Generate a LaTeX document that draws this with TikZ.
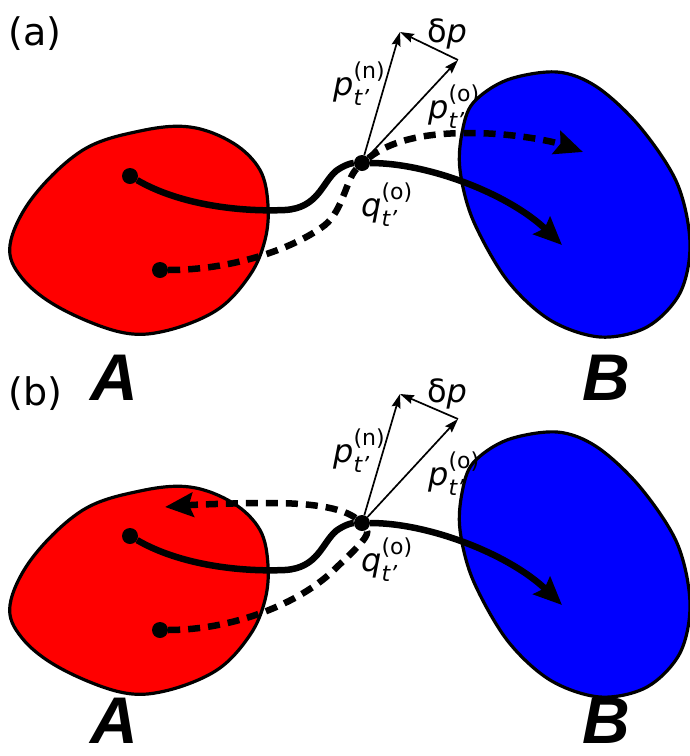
\documentclass[tikz,border=0pt]{standalone}
\usepackage{fontspec}
\setmainfont{DejaVu Sans}
\newfontfamily\capfont{Liberation Sans}
\usetikzlibrary{arrows.meta,positioning}
\definecolor{regred}{RGB}{255,0,0}
\definecolor{regblue}{RGB}{0,0,255}
\newcommand{\idxfont}{\fontsize{22}{22}\selectfont}
\newcommand{\momsym}[3]{\textit{#1}\makebox[0pt][l]{\raisebox{17pt}{\idxfont(#2)}}\makebox[0pt][l]{\raisebox{-10pt}{\idxfont\itshape #3}}\phantom{\idxfont(#2)}}
\tikzset{
  basin/.style={draw=black, line width=3.2pt, line join=round},
  trajdot/.style={circle, fill=black, inner sep=0pt, minimum size=16pt},
  traj/.style={line width=6.5pt},
  trajold/.style={traj, dash pattern=on 12pt off 8pt},
  trajtip/.style={-{Stealth[length=28pt,width=24pt,inset=4pt]}},
  momvec/.style={-{Stealth[length=14pt,width=9pt,inset=2pt]}, line width=1.7pt},
  momlbl/.style={inner sep=0pt, anchor=base west, font=\fontsize{32}{32}\selectfont},
  panellbl/.style={inner sep=0pt, anchor=base west, font=\fontsize{38}{38}\selectfont},
  basinlbl/.style={inner sep=0pt, anchor=base, font=\capfont\bfseries\itshape\fontsize{66}{66}\selectfont}
}
\begin{document}
\begin{tikzpicture}[x=1pt, y=-1pt]
\useasboundingbox (0,0) rectangle (690,756);

% panel (a)
\begin{scope}
\node[panellbl] (lbla) at (8,45) {(a)};
\draw[basin, fill=regred] plot[smooth cycle, tension=0.6] coordinates {(10,245) (33,197) (83,150) (140,131) (190,127) (233,143) (260,170) (268,205) (265,240) (250,275) (217,310) (165,331) (120,332) (60,308) (22,278)};
\draw[basin, fill=regblue] plot[smooth cycle, tension=0.55] coordinates {(462,133) (473,103) (507,80) (557,72) (597,87) (640,127) (677,183) (690,243) (680,293) (647,327) (600,337) (550,320) (507,280) (473,220) (460,170)};
\node[basinlbl] (basinAa) at (114,400) {A};
\node[basinlbl] (basinBa) at (606,400) {B};
\node[trajdot] (newa) at (130,176) {};
\node[trajdot] (olda) at (160,270) {};
\node[trajdot] (juna) at (362,163) {};
\coordinate (endnewa) at (562,245);
\coordinate (endolda) at (583,152);
\coordinate (pna) at (400,32);
\coordinate (poa) at (458,60);
\draw[traj] (newa) .. controls (180,205) and (240,212) .. (285,210) .. controls (318,208) and (322,183) .. (336,171) .. controls (344,165) and (352,163) .. (juna);
\draw[traj, trajtip] (juna) .. controls (430,163) and (510,195) .. (endnewa);
\draw[trajold] (olda) .. controls (230,270) and (292,250) .. (325,225) .. controls (343,210) and (346,180) .. (juna);
\draw[trajold, trajtip] (juna) .. controls (392,140) and (425,133) .. (470,133) .. controls (515,133) and (555,142) .. (endolda);
\draw[momvec] (juna) -- (pna);
\draw[momvec] (juna) -- (poa);
\draw[momvec] (poa) -- (pna);
\node[inner sep=0pt, anchor=base, font=\fontsize{32}{32}\selectfont] (dpa) at (447,42) {δ\textit{p}};
\node[momlbl] (pnlbla) at (333,95) {\momsym{p}{n}{t'}};
\node[momlbl] (polbla) at (428,118) {\momsym{p}{o}{t'}};
\node[momlbl] (qlbla) at (361,216) {\momsym{q}{o}{t'}};
\end{scope}

% panel (b)
\begin{scope}[shift={(0,360)}]
\node[panellbl] (lblb) at (8,45) {(b)};
\draw[basin, fill=regred] plot[smooth cycle, tension=0.6] coordinates {(10,245) (33,197) (83,150) (140,131) (190,127) (233,143) (260,170) (268,205) (265,240) (250,275) (217,310) (165,331) (120,332) (60,308) (22,278)};
\draw[basin, fill=regblue] plot[smooth cycle, tension=0.55] coordinates {(462,133) (473,103) (507,80) (557,72) (597,87) (640,127) (677,183) (690,243) (680,293) (647,327) (600,337) (550,320) (507,280) (473,220) (460,170)};
\node[basinlbl] (basinAb) at (114,383) {A};
\node[basinlbl] (basinBb) at (606,383) {B};
\node[trajdot] (newb) at (130,176) {};
\node[trajdot] (oldb) at (160,270) {};
\node[trajdot] (junb) at (362,163) {};
\coordinate (endnewb) at (562,245);
\coordinate (endoldb) at (165,147);
\coordinate (pnb) at (400,34);
\coordinate (pob) at (458,59);
\draw[traj] (newb) .. controls (180,205) and (240,212) .. (285,210) .. controls (318,208) and (322,183) .. (336,171) .. controls (344,165) and (352,163) .. (junb);
\draw[traj, trajtip] (junb) .. controls (430,163) and (510,195) .. (endnewb);
\draw[trajold] (oldb) .. controls (230,270) and (300,245) .. (337,207) .. controls (360,185) and (370,175) .. (junb);
\draw[trajold, trajtip] (junb) .. controls (345,150) and (320,143) .. (270,143) .. controls (230,143) and (190,145) .. (endoldb);
\draw[momvec] (junb) -- (pnb);
\draw[momvec] (junb) -- (pob);
\draw[momvec] (pob) -- (pnb);
\node[inner sep=0pt, anchor=base, font=\fontsize{32}{32}\selectfont] (dpb) at (447,42) {δ\textit{p}};
\node[momlbl] (pnlblb) at (333,102) {\momsym{p}{n}{t'}};
\node[momlbl] (polblb) at (428,125) {\momsym{p}{o}{t'}};
\node[momlbl] (qlblb) at (361,211) {\momsym{q}{o}{t'}};
\end{scope}
\end{tikzpicture}
\end{document}
